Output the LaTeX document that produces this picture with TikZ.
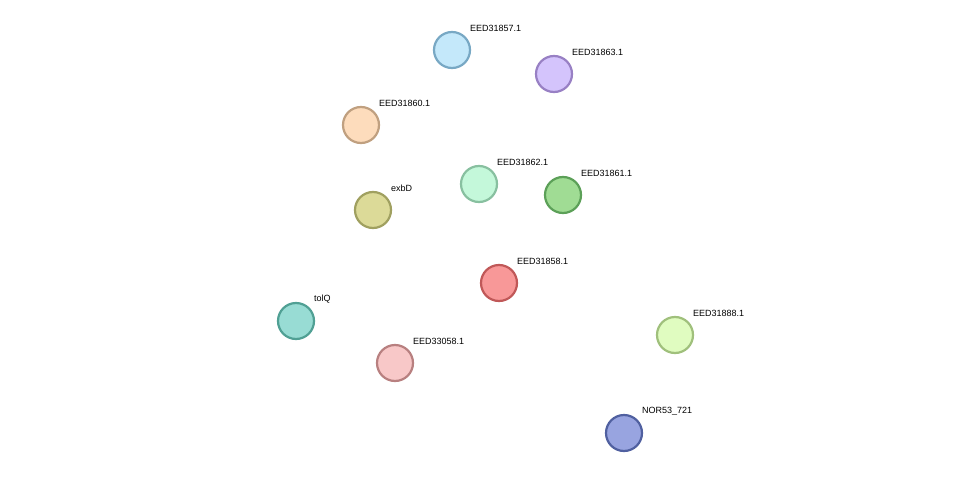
\documentclass[tikz,border=0pt]{standalone}
\usepackage{fontspec}
\setmainfont{Liberation Sans}
\usetikzlibrary{calc}
\pgfdeclarelayer{bg}\pgfsetlayers{bg,main}
\definecolor{eg}{HTML}{33C033}\definecolor{eb}{HTML}{2F2FF0}\definecolor{em}{HTML}{D43CD4}
\definecolor{ey}{HTML}{C8CC3C}\definecolor{ek}{HTML}{4A4A4A}\definecolor{er}{HTML}{F03030}\definecolor{ec}{HTML}{30B8E8}
\definecolor{c57}{HTML}{C4E8FA}\definecolor{l57}{HTML}{78A8C4}
\definecolor{c63}{HTML}{D4C4FC}\definecolor{l63}{HTML}{9880C4}
\definecolor{c60}{HTML}{FDDCBC}\definecolor{l60}{HTML}{C0A080}
\definecolor{c62}{HTML}{C4F8DA}\definecolor{l62}{HTML}{88C0A0}
\definecolor{c61}{HTML}{A0DC94}\definecolor{l61}{HTML}{5CA058}
\definecolor{cex}{HTML}{DCDA98}\definecolor{lex}{HTML}{A0A060}
\definecolor{c58}{HTML}{F89898}\definecolor{l58}{HTML}{C05858}
\definecolor{cto}{HTML}{98DCD4}\definecolor{lto}{HTML}{50A094}
\definecolor{c33}{HTML}{F8C8C8}\definecolor{l33}{HTML}{B88080}
\definecolor{c88}{HTML}{E0FCC0}\definecolor{l88}{HTML}{A0C07C}
\definecolor{cno}{HTML}{98A4E0}\definecolor{lno}{HTML}{5060A0}
\newcommand\sedge[4]{\foreach \cc [count=\i] in {#4}{\pgfmathsetmacro\oo{(\i-(#3+1)/2)*1.6}
 \draw[draw=e\cc,line width=0.9pt] ($(#1)!\oo pt!90:(#2)$) -- ($(#2)!\oo pt!-90:(#1)$);}}
\newcommand\pnode[5]{\node[circle,minimum size=36pt,inner sep=0pt,line width=2.2pt,fill=#3,draw=#4] (#1) at #2 {};
 \node[anchor=west,font=\fontsize{9}{10}\selectfont,inner sep=0pt] (#1t) at ($(#1)+(18,-22)$) {#5};}
\begin{document}
\begin{tikzpicture}[x=1pt,y=-1pt]
\useasboundingbox[fill=white] (0,0) rectangle (975,479);
\pnode{n57}{(452,50)}{c57}{l57}{EED31857.1}
\pnode{n63}{(554,74)}{c63}{l63}{EED31863.1}
\pnode{n60}{(361,125)}{c60}{l60}{EED31860.1}
\pnode{n62}{(479,184)}{c62}{l62}{EED31862.1}
\pnode{n61}{(563,195)}{c61}{l61}{EED31861.1}
\pnode{nex}{(373,210)}{cex}{lex}{exbD}
\pnode{n58}{(499,283)}{c58}{l58}{EED31858.1}
\pnode{nto}{(296,321)}{cto}{lto}{tolQ}
\pnode{n33}{(395,363)}{c33}{l33}{EED33058.1}
\pnode{n88}{(675,335)}{c88}{l88}{EED31888.1}
\pnode{nno}{(624,433)}{cno}{lno}{NOR53\_721}
\begin{pgfonlayer}{bg}
\sedge{n57}{n63}{4}{g,m,k,b}
\sedge{n57}{n60}{3}{m,b,g}
\sedge{n57}{n62}{5}{g,g,b,b,m}
\sedge{n57}{n61}{2}{b,g}
\sedge{n57}{nex}{2}{m,b}
\sedge{n63}{n60}{2}{g,b}
\sedge{n63}{n62}{3}{g,k,b}
\sedge{n63}{n61}{3}{k,g,b}
\sedge{n63}{nex}{2}{g,b}
\sedge{n63}{n58}{3}{g,b,k}
\sedge{n60}{n62}{5}{g,b,m,k,y}
\sedge{n60}{n61}{5}{g,b,m,k,y}
\sedge{n60}{nex}{2}{b,g}
\sedge{n60}{n58}{5}{g,b,m,k,y}
\sedge{n60}{nto}{5}{g,b,k,m,y}
\sedge{n62}{n61}{5}{r,g,y,m,b}
\sedge{n62}{nex}{5}{y,m,b,k,g}
\sedge{n62}{n58}{5}{g,b,m,k,y}
\sedge{n62}{n33}{4}{g,b,m,k}
\sedge{n62}{n88}{3}{g,b,k}
\sedge{n61}{nex}{5}{g,b,k,m,y}
\sedge{n61}{n58}{5}{g,b,m,k,y}
\sedge{n61}{n33}{2}{g,b}
\sedge{n61}{n88}{4}{g,b,k,y}
\sedge{nex}{n58}{5}{g,b,k,m,y}
\sedge{nex}{nto}{5}{g,b,k,m,y}
\sedge{nex}{n33}{1}{b}
\sedge{n58}{nto}{4}{g,k,m,y}
\sedge{n58}{n33}{5}{g,b,k,m,y}
\sedge{n58}{n88}{5}{g,b,k,m,y}
\sedge{n58}{nno}{3}{g,m,y}
\sedge{nto}{n33}{5}{g,b,k,m,y}
\sedge{n88}{nno}{3}{b,c,y}
\end{pgfonlayer}
\end{tikzpicture}
\end{document}
